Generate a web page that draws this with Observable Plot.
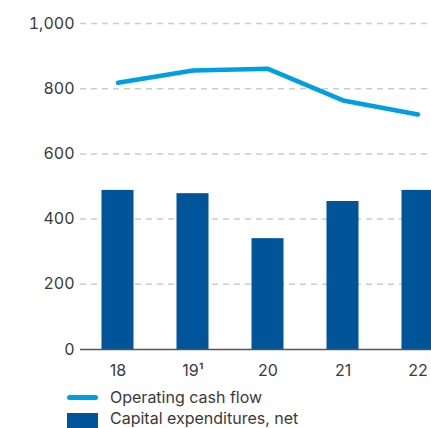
<!DOCTYPE html>
<html>
<head>
<meta charset="utf-8">
<script src="https://cdn.jsdelivr.net/npm/d3@7"></script>
<script src="https://cdn.jsdelivr.net/npm/@observablehq/plot@0.6"></script>
<style>
  html, body { margin: 0; padding: 0; background: #fff; overflow: hidden; }
  body { width: 431px; height: 428px; font-family: Inter, "Liberation Sans", Arial, sans-serif; }
  #chart svg { overflow: hidden; }
  .legend { position: relative; height: 46px; color: #3a3a3a; font-size: 16px; }
  .sw-line { position: absolute; left: 67px; width: 31px; height: 5px; border-radius: 3px; background: #009fe3; }
  .sw-box { position: absolute; left: 67px; width: 31px; height: 15px; background: #00559a; }
  .lbl { position: absolute; left: 110px; white-space: nowrap; line-height: 17px; }
</style>
</head>
<body>
<div id="chart"></div>
<div class="legend" id="legend"></div>
<script>
const years = ["18", "19¹", "20", "21", "22"];
const operatingCashFlow = [818, 856, 861, 764, 721];
const capexNet = [488, 478, 340, 454, 488];
const yTicks = [0, 200, 400, 600, 800, 1000];
const seriesNames = ["Operating cash flow", "Capital expenditures, net"];

const data = years.map((y, i) => ({year: y, ocf: operatingCashFlow[i], capex: capexNet[i]}));

const chart = Plot.plot({
  width: 431,
  height: 382,
  marginLeft: 80,
  marginRight: -24,
  marginTop: 23,
  marginBottom: 33,
  style: {fontFamily: 'Inter, "Liberation Sans", Arial, sans-serif', fontSize: "16px", color: "#3a3a3a", background: "#fff"},
  x: {domain: years, padding: 0, label: null},
  y: {domain: [0, 1000], label: null},
  marks: [
    Plot.ruleY(yTicks.filter(d => d > 0), {stroke: "#cccccc", strokeWidth: 1.5, strokeDasharray: "6,5"}),
    Plot.barY(data, {x: "year", y: "capex", fill: "#00559a", insetLeft: 21.5, insetRight: 21.5}),
    Plot.ruleY([0], {stroke: "#555", strokeWidth: 1.5}),
    Plot.lineY(data, {x: "year", y: "ocf", stroke: "#009fe3", strokeWidth: 4.5, strokeLinecap: "round", strokeLinejoin: "round"}),
    Plot.axisY({ticks: yTicks, tickSize: 0, tickPadding: 6, tickFormat: d3.format(","), label: null}),
    Plot.axisX({tickSize: 0, tickPadding: 15, label: null})
  ]
});
document.getElementById("chart").appendChild(chart);

const legend = document.getElementById("legend");
legend.innerHTML = `
  <div class="sw-line" style="top:13px"></div>
  <div class="lbl" style="top:7px">${seriesNames[0]}</div>
  <div class="sw-box" style="top:31px"></div>
  <div class="lbl" style="top:28px">${seriesNames[1]}</div>
`;
</script>
</body>
</html>
